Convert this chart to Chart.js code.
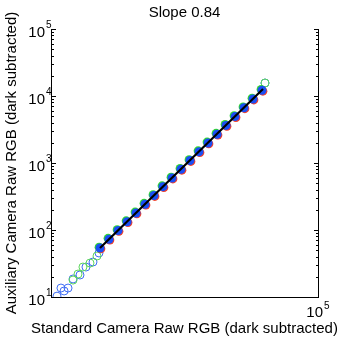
<!DOCTYPE html>
<html>
<head>
<meta charset="utf-8">
<script src="https://cdn.jsdelivr.net/npm/chart.js@4/dist/chart.umd.min.js"></script>
<style>
html,body{margin:0;padding:0;background:#fff;}
canvas{display:block;}
</style>
</head>
<body>
<canvas id="c" width="346" height="339"></canvas>
<script>
// ---- data ----
const titleText = "Slope 0.84";
const xTitle = "Standard Camera Raw RGB (dark subtracted)";
const yTitle = "Auxiliary Camera Raw RGB (dark subtracted)";
const yTickExps = [1, 2, 3, 4, 5];
const xTickExps = [5];

const blueX = [54.2, 73.9, 101, 138, 187.7, 256, 349, 476, 650, 886, 1208, 1649, 2249, 3069, 4188, 5714, 7783, 10620, 14490];
const blueY = [53.9, 72.9, 98.3, 133, 179.5, 242.7, 327, 443, 597, 807, 1089, 1474, 1990, 2691, 3640, 4928, 6668, 9016, 12170];

const redX = [55.8, 76.1, 104.0, 142.1, 193.3, 263.7, 359.5, 490.3, 669.5, 912.6, 1244, 1698, 2316, 3161, 4314, 5885, 8016, 10939, 14925];
const redY = [52.3, 70.7, 95.4, 129.0, 174.1, 235.4, 317.2, 429.7, 579.1, 782.8, 1056, 1430, 1930, 2610, 3531, 4780, 6468, 8746, 11805];

const greenX = [52.6, 71.7, 98.0, 133.9, 182.1, 248.3, 338.5, 461.7, 630.5, 859.4, 1172, 1600, 2182, 2977, 4062, 5543, 7550, 10301, 14055];
const greenY = [55.5, 75.1, 101.2, 137.0, 184.9, 250.0, 336.8, 456.3, 614.9, 831.2, 1122, 1518, 2050, 2772, 3749, 5076, 6868, 9287, 12535];

const openBlueX = [12.3, 14.1, 15.7, 18.0, 21.4, 27.2, 33.4, 42.6, 52.4, 16070];
const openBlueY = [10.3, 13.6, 12.3, 13.6, 18.6, 21.3, 28.0, 33.3, 45.4, 15630];

const openGreenX = [21.4, 25.4, 30.1, 38.4, 48.9, 16070];
const openGreenY = [17.9, 22.0, 28.0, 32.1, 40.9, 15630];

const fitX = [54.2, 15000];
const fitY = [53.9, 12710];

function pts(xs, ys){ return xs.map((x,i)=>({x:x, y:ys[i]})); }

const FONT = "'Liberation Sans', Arial, Helvetica, sans-serif";

const decor = {
  id: 'decor',
  afterDraw(chart){
    const ctx = chart.ctx;
    const a = chart.chartArea;
    const xs = chart.scales.x, ys = chart.scales.y;
    ctx.save();
    ctx.strokeStyle = '#000';
    ctx.lineWidth = 1;
    // spines
    ctx.beginPath();
    ctx.moveTo(a.left+0.5, a.top); ctx.lineTo(a.left+0.5, a.bottom+0.5);
    ctx.lineTo(a.right+0.5, a.bottom+0.5); ctx.lineTo(a.right+0.5, a.top);
    ctx.stroke();
    // y ticks (major + minor) on left and right
    ctx.beginPath();
    for (let e = 1; e <= 5; e++) {
      for (let m = 1; m <= 9; m++) {
        const v = m * Math.pow(10, e);
        if (v > 100000) break;
        const py = Math.round(ys.getPixelForValue(v)) + 0.5;
        const len = (m === 1) ? 5 : 3;
        ctx.moveTo(a.left, py); ctx.lineTo(a.left + len, py);
        ctx.moveTo(a.right + 1, py); ctx.lineTo(a.right + 1 - len, py);
      }
    }
    ctx.stroke();
    ctx.fillStyle = '#000';
    // y tick labels
    yTickExps.forEach(e => {
      const py = ys.getPixelForValue(Math.pow(10, e));
      ctx.font = '15px ' + FONT;
      ctx.textAlign = 'right';
      ctx.textBaseline = 'middle';
      ctx.fillText('10', a.left - 6, py + 4);
      ctx.font = '10px ' + FONT;
      ctx.textAlign = 'left';
      ctx.fillText(String(e), a.left - 5, py - 4);
    });
    // x tick labels
    xTickExps.forEach(e => {
      const px = xs.getPixelForValue(Math.pow(10, e));
      ctx.font = '15px ' + FONT;
      ctx.textAlign = 'right';
      ctx.textBaseline = 'middle';
      ctx.fillText('10', px + 5, a.bottom + 16);
      ctx.font = '10px ' + FONT;
      ctx.textAlign = 'left';
      ctx.fillText(String(e), px + 6, a.bottom + 9);
    });
    // title
    const cx = (a.left + a.right) / 2;
    ctx.font = '15px ' + FONT;
    ctx.textAlign = 'center';
    ctx.textBaseline = 'middle';
    ctx.fillText(titleText, cx, 13);
    // x title
    ctx.fillText(xTitle, cx, a.bottom + 32);
    // y title
    ctx.translate(12, (a.top + a.bottom) / 2);
    ctx.rotate(-Math.PI / 2);
    ctx.fillText(yTitle, 0, 0);
    ctx.restore();
  }
};

new Chart(document.getElementById('c'), {
  type: 'scatter',
  data: {
    datasets: [
      { type: 'line', data: pts(fitX, fitY), borderColor: '#000', borderWidth: 2.2, pointRadius: 0, fill: false },
      { data: pts(blueX, blueY), backgroundColor: '#1a4ff5', borderColor: '#1a4ff5', pointRadius: 4.5, borderWidth: 0 },
      { data: pts(greenX, greenY), backgroundColor: '#33d633', borderColor: '#33d633', pointRadius: 4.5, borderWidth: 0 },
      { data: pts(redX, redY), backgroundColor: '#f0402c', borderColor: '#f0402c', pointRadius: 4.5, borderWidth: 0 },
      { data: pts(openGreenX, openGreenY), backgroundColor: 'rgba(0,0,0,0)', borderColor: '#5cd65c', pointRadius: 4, borderWidth: 1 },
      { data: pts(openBlueX, openBlueY), backgroundColor: 'rgba(0,0,0,0)', borderColor: '#3f6ef5', pointRadius: 4, borderWidth: 1 }
    ]
  },
  options: {
    responsive: false,
    animation: false,
    devicePixelRatio: 1,
    layout: { padding: { left: 51, top: 29, right: 28, bottom: 42 } },
    plugins: { legend: { display: false }, tooltip: { enabled: false }, title: { display: false } },
    scales: {
      x: { type: 'logarithmic', min: 10, max: 100000, display: false },
      y: { type: 'logarithmic', min: 10, max: 100000, display: false }
    }
  },
  plugins: [decor]
});
</script>
</body>
</html>
